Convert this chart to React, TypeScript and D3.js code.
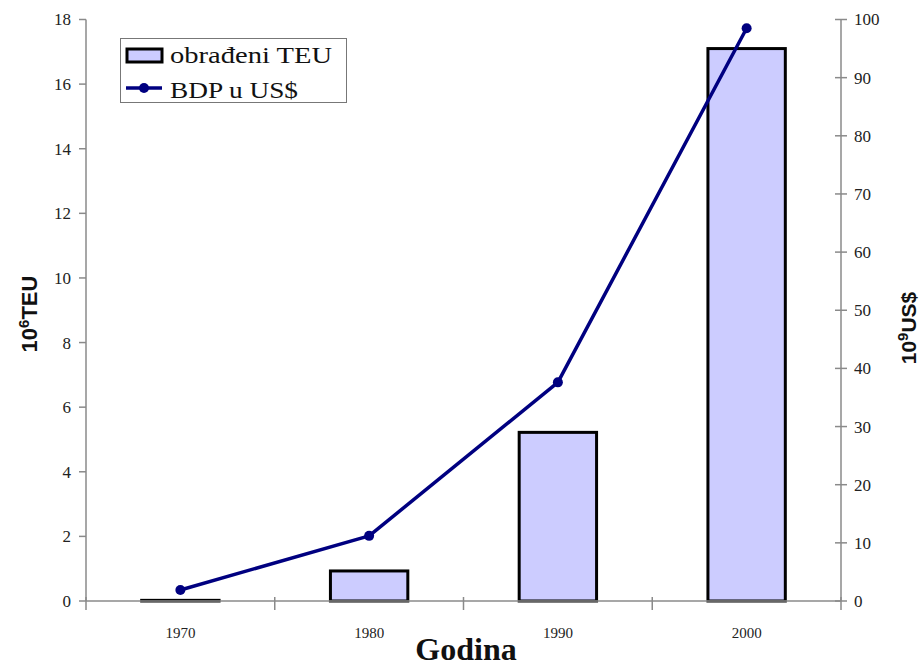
import React from "react";
import * as d3 from "d3";

const years = ["1970", "1980", "1990", "2000"];
const teu = [0.02, 0.93, 5.22, 17.1];
const gdp = [1.9, 11.2, 37.6, 98.5];
const leftTicks = [0, 2, 4, 6, 8, 10, 12, 14, 16, 18];
const rightTicks = [0, 10, 20, 30, 40, 50, 60, 70, 80, 90, 100];
const legendLabels = ["obrađeni TEU", "BDP u US$"];

const W = 923;
const H = 666;
const L = 86;
const R = 841;
const T = 19.5;
const B = 601;

export default function App() {
  const x = d3.scaleBand<string>().domain(years).range([L, R]).padding(0);
  const yL = d3.scaleLinear().domain([0, 18]).range([B, T]);
  const yR = d3.scaleLinear().domain([0, 100]).range([B, T]);
  const bw = x.bandwidth() * 0.41;
  const cx = (d: string) => (x(d) as number) + x.bandwidth() / 2;
  const line = d3
    .line<number>()
    .x((_, i) => cx(years[i]))
    .y((d) => yR(d));
  const axisColor = "#8a8a8a";
  const serif = "'Liberation Serif', 'Times New Roman', serif";
  const sans = "'Liberation Sans', Arial, sans-serif";
  const xBounds = [...years.map((d) => x(d) as number), R];

  return (
    <svg width={W} height={H} style={{ position: "absolute", left: 0, top: 0, background: "#fff" }}>
      <rect x={0} y={0} width={W} height={H} fill="#fff" />
      {/* bars */}
      {years.map((d, i) => (
        <rect
          key={d}
          x={cx(d) - bw / 2}
          y={yL(teu[i])}
          width={bw}
          height={B - yL(teu[i])}
          fill="#ccccff"
          stroke="#000"
          strokeWidth={3}
        />
      ))}
      {/* axes */}
      <line x1={L} x2={L} y1={T} y2={B} stroke={axisColor} strokeWidth={1.5} />
      <line x1={R} x2={R} y1={T} y2={B} stroke={axisColor} strokeWidth={1.5} />
      <line x1={L} x2={R} y1={B} y2={B} stroke={axisColor} strokeWidth={1.5} />
      {leftTicks.map((t) => (
        <g key={"l" + t}>
          <line x1={L - 7} x2={L} y1={yL(t)} y2={yL(t)} stroke={axisColor} strokeWidth={1.5} />
          <text x={L - 15} y={yL(t)} dy="0.35em" textAnchor="end" fontFamily={serif} fontSize={17} fill="#222">
            {t}
          </text>
        </g>
      ))}
      {rightTicks.map((t) => (
        <g key={"r" + t}>
          <line x1={R - 6} x2={R + 6} y1={yR(t)} y2={yR(t)} stroke={axisColor} strokeWidth={1.5} />
          <text x={R + 13} y={yR(t)} dy="0.35em" textAnchor="start" fontFamily={serif} fontSize={17} fill="#222">
            {t}
          </text>
        </g>
      ))}
      {xBounds.map((v, i) => (
        <line key={"xt" + i} x1={v} x2={v} y1={B - 4} y2={B + 9} stroke={axisColor} strokeWidth={1.5} />
      ))}
      {years.map((d) => (
        <text key={"xl" + d} x={cx(d)} y={633} dy="0.35em" textAnchor="middle" fontFamily={serif} fontSize={15} fill="#222">
          {d}
        </text>
      ))}
      {/* line */}
      <path d={line(gdp) || ""} fill="none" stroke="#000080" strokeWidth={3.5} strokeLinejoin="round" />
      {gdp.map((v, i) => (
        <circle key={"c" + i} cx={cx(years[i])} cy={yR(v)} r={5} fill="#000080" />
      ))}
      {/* titles */}
      <text x={466} y={660} textAnchor="middle" fontFamily={serif} fontSize={32} fontWeight="bold" fill="#111">
        Godina
      </text>
      <text
        transform={`translate(37, 314) rotate(-90)`}
        textAnchor="middle"
        fontFamily={sans}
        fontSize={22}
        fontWeight="bold"
        fill="#111"
      >
        10<tspan dy={-8} fontSize={15}>6</tspan><tspan dy={8}>TEU</tspan>
      </text>
      <text
        transform={`translate(916, 328) rotate(-90)`}
        textAnchor="middle"
        fontFamily={sans}
        fontSize={21}
        fontWeight="bold"
        fill="#111"
      >
        10<tspan dy={-8} fontSize={15}>9</tspan><tspan dy={8}>US$</tspan>
      </text>
      {/* legend */}
      <rect x={120.5} y={38.5} width={226} height={64} fill="#fff" stroke="#777" strokeWidth={1} />
      <rect x={127} y={49} width={35} height={13} fill="#ccccff" stroke="#000" strokeWidth={3} />
      <text x={170} y={63} fontFamily={serif} fontSize={24} fill="#111" textLength={162} lengthAdjust="spacingAndGlyphs">
        {legendLabels[0]}
      </text>
      <line x1={126} x2={162} y1={88} y2={88} stroke="#000080" strokeWidth={3.5} />
      <circle cx={144} cy={88} r={5} fill="#000080" />
      <text x={170} y={98} fontFamily={serif} fontSize={24} fill="#111" textLength={128} lengthAdjust="spacingAndGlyphs">
        {legendLabels[1]}
      </text>
    </svg>
  );
}
